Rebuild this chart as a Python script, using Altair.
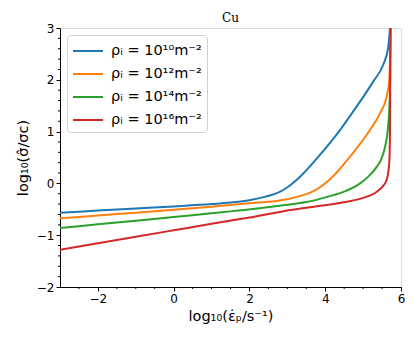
import altair as alt
import pandas as pd

labels = ["ρᵢ = 10¹⁰m⁻²", "ρᵢ = 10¹²m⁻²", "ρᵢ = 10¹⁴m⁻²", "ρᵢ = 10¹⁶m⁻²"]
colors = ["#1f77b4", "#ff7f0e", "#2ca02c", "#d62728"]

x_1e10 = [-3.0, -2.0, -1.0, 0.0, 1.0, 1.5, 2.0, 2.4, 2.8, 3.05, 3.33, 3.86, 4.39, 4.74, 5.27, 5.53, 5.66, 5.71]
y_1e10 = [-0.565, -0.525, -0.485, -0.445, -0.40, -0.37, -0.325, -0.26, -0.165, -0.05, 0.125, 0.55, 1.03, 1.39, 1.97, 2.29, 2.61, 3.0]

x_1e12 = [-3.0, -2.0, -1.0, 0.0, 1.0, 1.5, 2.15, 2.8, 3.25, 3.69, 3.9, 4.126, 4.654, 5.18, 5.445, 5.62, 5.69, 5.71, 5.725]
y_1e12 = [-0.675, -0.62, -0.565, -0.51, -0.45, -0.415, -0.375, -0.33, -0.26, -0.15, -0.055, 0.079, 0.515, 1.03, 1.353, 1.674, 1.996, 2.38, 3.0]

x_1e14 = [-3.0, -2.0, -1.0, 0.0, 1.0, 1.5, 2.15, 2.8, 3.5, 4.1, 4.5, 4.92, 5.15, 5.36, 5.48, 5.58, 5.66, 5.69, 5.715, 5.725]
y_1e14 = [-0.86, -0.79, -0.72, -0.65, -0.575, -0.54, -0.49, -0.43, -0.36, -0.25, -0.16, 0.0, 0.14, 0.32, 0.47, 0.71, 1.09, 1.42, 2.0, 3.0]

x_1e16 = [-3.0, -2.0, -1.0, 0.0, 1.0, 2.0, 2.8, 3.6, 4.57, 5.0, 5.36, 5.5, 5.62, 5.69, 5.71, 5.72]
y_1e16 = [-1.28, -1.155, -1.03, -0.905, -0.78, -0.66, -0.55, -0.46, -0.353, -0.28, -0.16, -0.07, 0.066, 0.388, 1.03, 3.0]

x_major = [-2, 0, 2, 4, 6]
y_major = [-2, -1, 0, 1, 2, 3]
x_minor = [-2.5, -1.5, -1.0, -0.5, 0.5, 1.0, 1.5, 2.5, 3.0, 3.5, 4.5, 5.0, 5.5]
y_minor = [-1.8, -1.6, -1.4, -1.2, -0.8, -0.6, -0.4, -0.2, 0.2, 0.4, 0.6, 0.8,
           1.2, 1.4, 1.6, 1.8, 2.2, 2.4, 2.6, 2.8]

series = [(x_1e10, y_1e10), (x_1e12, y_1e12), (x_1e14, y_1e14), (x_1e16, y_1e16)]
rows = []
for i, (xs, ys) in enumerate(series):
    for j, (xv, yv) in enumerate(zip(xs, ys)):
        rows.append({"x": xv, "y": yv, "s": labels[i], "k": j})
df = pd.DataFrame(rows)

W, H = 341, 259
xscale = alt.Scale(domain=[-3, 6], nice=False, zero=False)
yscale = alt.Scale(domain=[-2, 3], nice=False, zero=False)
cscale = alt.Scale(domain=labels, range=colors)

legend = alt.Legend(
    orient="none", legendX=7, legendY=7, title=None,
    symbolType="M-1.5,0L1.5,0", symbolSize=400, symbolStrokeWidth=2,
    labelFontSize=14.5, labelFont="DejaVu Sans", labelColor="black",
    labelOffset=12, rowPadding=5, symbolOffset=5,
    strokeColor="#d0d0d0", fillColor="white", padding=5, cornerRadius=3,
)

layers = []
for i, lab in enumerate(labels):
    layers.append(
        alt.Chart(df).transform_filter(alt.datum.s == lab)
        .mark_line(strokeWidth=2, interpolate="monotone", clip=True)
        .encode(
            x=alt.X("x:Q", scale=xscale,
                    axis=alt.Axis(values=x_major, title="log₁₀(ε̇ₚ/s⁻¹)", grid=False,
                                  tickSize=4, labelFontSize=12, titleFontSize=14.5,
                                  labelFont="DejaVu Sans", titleFont="DejaVu Sans",
                                  titleFontWeight="normal", labelColor="black",
                                  titleColor="black", domainColor="black", tickColor="black",
                                  titlePadding=5, labelFlush=False)),
            y=alt.Y("y:Q", scale=yscale,
                    axis=alt.Axis(values=y_major, title="log₁₀(σ̂/σc)", grid=False,
                                  tickSize=4, labelFontSize=12, titleFontSize=14.5,
                                  labelFont="DejaVu Sans", titleFont="DejaVu Sans",
                                  titleFontWeight="normal", labelColor="black",
                                  titleColor="black", domainColor="black", tickColor="black",
                                  titlePadding=6, labelFlush=False)),
            color=alt.Color("s:N", scale=cscale, legend=legend, sort=labels),
            order="k:Q",
        )
    )

xminor_df = pd.DataFrame({"v": x_minor})
yminor_df = pd.DataFrame({"v": y_minor})
xm = alt.Chart(xminor_df).mark_rule(color="black", strokeWidth=1, clip=False).encode(
    x=alt.X("v:Q", scale=xscale), y=alt.value(H), y2=alt.value(H + 2))
ym = alt.Chart(yminor_df).mark_rule(color="black", strokeWidth=1, clip=False).encode(
    y=alt.Y("v:Q", scale=yscale), x=alt.value(0), x2=alt.value(-2))

chart = alt.layer(*layers, xm, ym).properties(
    width=W, height=H,
    title=alt.Title("Cu", font="DejaVu Serif", fontSize=12, fontWeight="normal",
                    color="black", offset=-3),
    autosize=alt.AutoSizeParams(type="none"),
    padding={"left": 52, "top": 20, "right": 6, "bottom": 49},
).configure_view(stroke="black", strokeWidth=1).configure(background="white")

chart.save("out.html", embed_options={"renderer": "svg", "actions": False})
